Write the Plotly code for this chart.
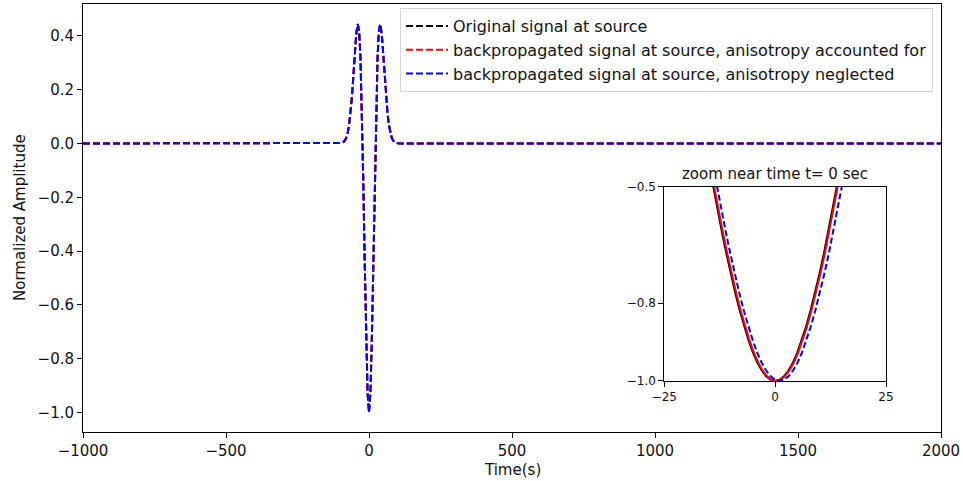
import plotly.graph_objects as go

# ---------------- data ----------------
time_main = [-1000, -120, -115, -110, -105, -100, -95, -90, -85, -80, -75, -70, -65,
             -60, -55, -50, -45, -40, -35, -30, -25, -20, -15, -10, -5, 0,
             5, 10, 15, 20, 25, 30, 35, 40, 45, 50, 55, 60, 65, 70, 75, 80,
             85, 90, 95, 100, 105, 110, 115, 120, 2000]
amp_original = [0.0, 0.0, 0.0, 0.0, 0.0, 0.001, 0.002, 0.005, 0.010, 0.020, 0.037, 0.066, 0.109,
                0.169, 0.245, 0.328, 0.403, 0.444, 0.426, 0.325, 0.134, -0.134, -0.439, -0.724, -0.927, -1.0,
                -0.927, -0.724, -0.439, -0.134, 0.134, 0.325, 0.426, 0.444, 0.403, 0.328, 0.245, 0.169,
                0.109, 0.066, 0.037, 0.020, 0.010, 0.005, 0.002, 0.001, 0.0, 0.0, 0.0, 0.0, 0.0]
amp_aniso_accounted = list(amp_original)
amp_aniso_neglected = list(amp_original)

# zoom (inset) data near t = 0
time_zoom_original = [-17, -16, -15, -14, -13, -12, -11, -10, -9, -8, -7, -6, -5, -4, -3, -2, -1, 0,
                      1, 2, 3, 4, 5, 6, 7, 8, 9, 10, 11, 12, 13, 14, 15, 16, 17]
time_zoom_accounted = [-16.8, -15.8, -14.8, -13.8, -12.8, -11.8, -10.8, -9.8, -8.8, -7.8, -6.8, -5.8,
                       -4.8, -3.8, -2.8, -1.8, -0.8, 0.2, 1.2, 2.2, 3.2, 4.2, 5.2, 6.2, 7.2, 8.2,
                       9.2, 10.2, 11.2, 12.2, 13.2, 14.2, 15.2, 16.2, 17.2]
time_zoom_neglected = [-16.17, -15.16, -14.15, -13.14, -12.13, -11.12, -10.11, -9.10, -8.09, -7.08,
                       -6.07, -5.06, -4.05, -3.04, -2.03, -1.02, -0.01, 1.0, 2.01, 3.02, 4.03, 5.04,
                       6.05, 7.06, 8.07, 9.08, 10.09, 11.10, 12.11, 13.12, 14.13, 15.14, 16.15, 17.16, 18.17]
amp_zoom = [-0.316, -0.378, -0.439, -0.500, -0.559, -0.617, -0.672, -0.724, -0.773, -0.818, -0.859,
            -0.895, -0.927, -0.953, -0.973, -0.988, -0.997, -1.0, -0.997, -0.988, -0.973, -0.953,
            -0.927, -0.895, -0.859, -0.818, -0.773, -0.724, -0.672, -0.617, -0.559, -0.500, -0.439,
            -0.378, -0.316]

names = ["Original signal at source",
         "backpropagated signal at source, anisotropy accounted for",
         "backpropagated signal at source, anisotropy neglected"]
colors = ["#000000", "#ff0000", "#0000ff"]

main_x_ticks = [-1000, -500, 0, 500, 1000, 1500, 2000]
main_y_ticks = [-1.0, -0.8, -0.6, -0.4, -0.2, 0.0, 0.2, 0.4]
zoom_x_ticks = [-25, 0, 25]
zoom_y_ticks = [-1.0, -0.8, -0.5]

FONT = "DejaVu Sans"
DASH = "7px,3px"

fig = go.Figure()

main_series = [amp_original, amp_aniso_accounted, amp_aniso_neglected]
for i, (nm, col, amp) in enumerate(zip(names, colors, main_series)):
    fig.add_trace(go.Scatter(
        x=time_main, y=amp, mode="lines", name=nm, legendgroup=f"g{i}",
        line=dict(color=col, width=2, dash=DASH),
        xaxis="x", yaxis="y"))

zoom_times = [time_zoom_original, time_zoom_accounted, time_zoom_neglected]
zoom_dash = ["solid", "solid", "6px,3px"]
for i, (col, tz, dz) in enumerate(zip(colors, zoom_times, zoom_dash)):
    fig.add_trace(go.Scatter(
        x=tz, y=amp_zoom, mode="lines", showlegend=False,
        line=dict(color=col, width=2, dash=dz),
        xaxis="x2", yaxis="y2"))

axis_common = dict(showgrid=False, zeroline=False, showline=True, linecolor="black",
                   linewidth=1, mirror=True, ticks="outside", ticklen=5, tickwidth=1,
                   tickcolor="black", automargin=False)

fig.update_layout(
    width=963, height=481,
    margin=dict(l=83, r=22, t=4, b=49),
    paper_bgcolor="white", plot_bgcolor="white",
    font=dict(family=FONT, size=15, color="#111111"),
    xaxis=dict(range=[-1000, 2000], tickvals=main_x_ticks, domain=[0, 1],
               tickfont=dict(size=15), **axis_common),
    yaxis=dict(range=[-1.0723, 0.5186], tickvals=main_y_ticks, tickformat=".1f",
               tickfont=dict(size=15), **axis_common),
    xaxis2=dict(range=[-25, 25], tickvals=zoom_x_ticks, domain=[0.6775, 0.9359],
                anchor="y2", tickfont=dict(size=12), **axis_common),
    yaxis2=dict(range=[-1.0, -0.5], tickvals=zoom_y_ticks, tickformat=".1f",
                domain=[0.1192, 0.5731], anchor="x2", tickfont=dict(size=12), **axis_common),
    legend=dict(x=0.9907, y=0.9906, xanchor="right", yanchor="top",
                bgcolor="rgba(255,255,255,0.85)", bordercolor="#d5d5d5", borderwidth=1,
                font=dict(family=FONT, size=16, color="#111111"),
                traceorder="grouped", tracegroupgap=0, itemwidth=42),
    showlegend=True,
    annotations=[
        dict(text="Normalized Amplitude", xref="paper", yref="paper", x=-0.0734, y=0.5,
             textangle=-90, showarrow=False, xanchor="center", yanchor="middle",
             font=dict(size=15)),
        dict(text="Time(s)", xref="paper", yref="paper", x=0.5, y=-0.089,
             showarrow=False, xanchor="center", yanchor="middle", font=dict(size=15)),
        dict(text="zoom near time t= 0 sec", xref="paper", yref="paper", x=0.8065, y=0.603,
             showarrow=False, xanchor="center", yanchor="middle", font=dict(size=15)),
    ],
)

fig.write_html("out.html")
